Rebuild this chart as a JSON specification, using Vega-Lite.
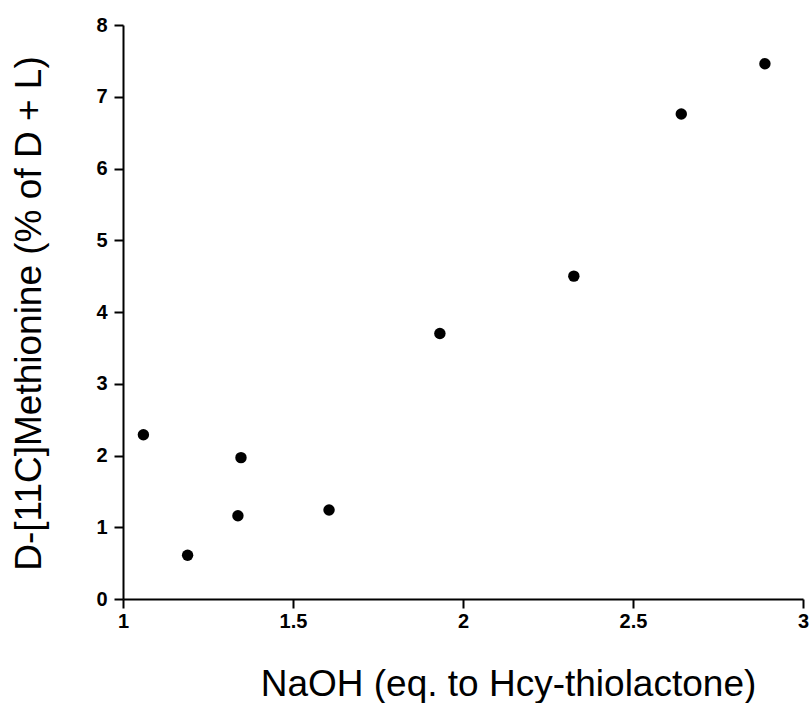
{
  "$schema": "https://vega.github.io/schema/vega-lite/v6.json",
  "width": 680,
  "height": 574,
  "autosize": {"type": "none"},
  "padding": {"left": 123, "top": 25, "right": 7, "bottom": 104},
  "background": "white",
  "config": {"view": {"stroke": null}},
  "data": {"values": [
    {"naoh": 1.06, "dmet": 2.29},
    {"naoh": 1.19, "dmet": 0.61},
    {"naoh": 1.338, "dmet": 1.16},
    {"naoh": 1.347, "dmet": 1.97},
    {"naoh": 1.606, "dmet": 1.24},
    {"naoh": 1.932, "dmet": 3.70},
    {"naoh": 2.326, "dmet": 4.50},
    {"naoh": 2.642, "dmet": 6.76},
    {"naoh": 2.888, "dmet": 7.46}
  ]},
  "mark": {"type": "point", "filled": true, "color": "black", "opacity": 1, "size": 130},
  "encoding": {
    "x": {"field": "naoh", "type": "quantitative",
      "scale": {"domain": [1, 3], "nice": false, "zero": false},
      "axis": {"title": "NaOH (eq. to Hcy-thiolactone)", "values": [1, 1.5, 2, 2.5, 3], "format": "~g",
        "grid": false, "domainColor": "black", "domainWidth": 2, "tickColor": "black", "tickWidth": 2, "tickSize": 9,
        "labelFont": "Liberation Sans", "labelFontWeight": "bold", "labelFontSize": 20, "labelColor": "black", "labelPadding": 3,
        "labelFlush": false,
        "titleFont": "Liberation Sans", "titleFontWeight": "normal", "titleFontSize": 37, "titleColor": "black",
        "titleX": 385, "titleY": 96, "titleBaseline": "alphabetic", "titleAlign": "center"}},
    "y": {"field": "dmet", "type": "quantitative",
      "scale": {"domain": [0, 8], "nice": false},
      "axis": {"title": "D-[11C]Methionine (% of D + L)", "values": [0, 1, 2, 3, 4, 5, 6, 7, 8], "format": "~g",
        "grid": false, "domainColor": "black", "domainWidth": 2, "tickColor": "black", "tickWidth": 2, "tickSize": 9,
        "labelFont": "Liberation Sans", "labelFontWeight": "bold", "labelFontSize": 20, "labelColor": "black", "labelPadding": 7,
        "labelFlush": false,
        "titleFont": "Liberation Sans", "titleFontWeight": "normal", "titleFontSize": 37, "titleColor": "black",
        "titleX": -83, "titleY": 288, "titleBaseline": "alphabetic", "titleAngle": -90, "titleAlign": "center"}}
  }
}
